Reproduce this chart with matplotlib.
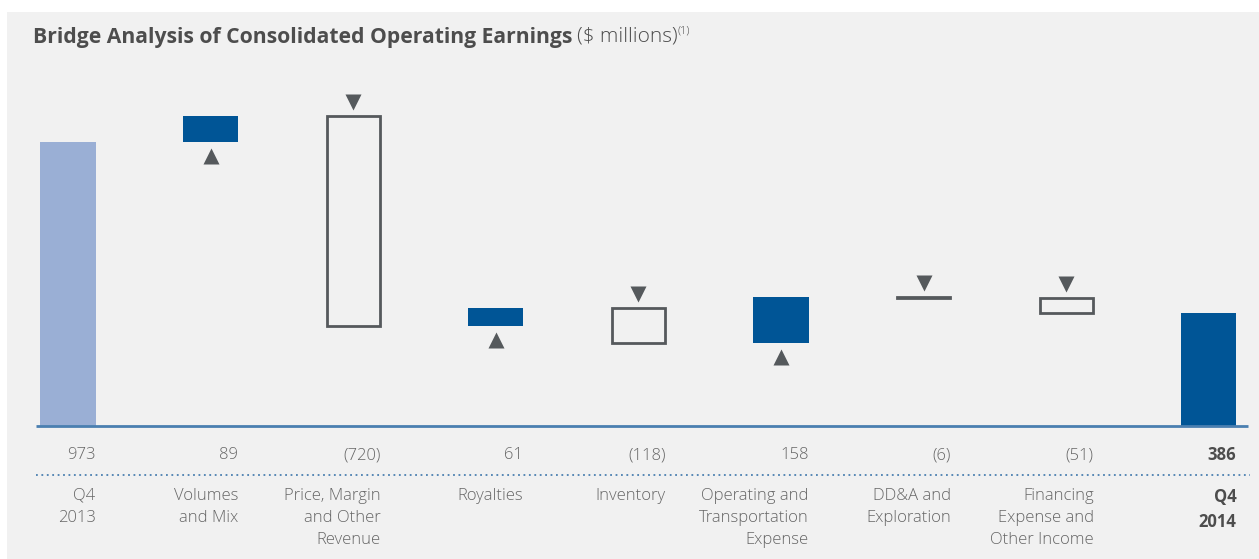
import matplotlib.pyplot as plt
from matplotlib.patches import Rectangle

plt.rcParams['font.family'] = ['Open Sans', 'DejaVu Sans']

# dados
categories = ["Q4\n2013", "Volumes\nand Mix", "Price, Margin\nand Other\nRevenue", "Royalties",
              "Inventory", "Operating and\nTransportation\nExpense", "DD&A and\nExploration",
              "Financing\nExpense and\nOther Income", "Q4\n2014"]
changes = [973, 89, -720, 61, -118, 158, -6, -51, 386]
value_labels = ["973", "89", "(720)", "61", "(118)", "158", "(6)", "(51)", "386"]

light_blue = '#9aafd5'
dark_blue = '#005596'
grey = '#55595c'
text_grey = '#666666'
bg = '#f1f1f1'

fig = plt.figure(figsize=(12.59, 5.59), dpi=100)
fig.patch.set_facecolor('white')
fig.patches.append(Rectangle((7 / 1259, 0), 1, 1 - 12 / 559, transform=fig.transFigure,
                             facecolor=bg, edgecolor='none', zorder=-5))

ax = fig.add_axes([0, 0, 1, 1])
ax.set_facecolor('none')
px_x = 142.6    # pixels por categoria
px_y = 0.292    # pixels por milhão
ax.set_xlim(-68 / px_x, (1259 - 68) / px_x)
ax.set_ylim(-133 / px_y, (559 - 133) / px_y)
ax.axis('off')

w = 0.386
tri_off = 14 / px_y
running = 0
n = len(changes)
for i, v in enumerate(changes):
    if i == 0:
        ax.bar(i, v, width=w, color=light_blue, zorder=2)
        running = v
    elif i == n - 1:
        ax.bar(i, v, width=w, color=dark_blue, zorder=2)
    else:
        start = running
        running += v
        if v > 0:
            ax.bar(i, v, bottom=start, width=w, color=dark_blue, zorder=2)
            ax.plot(i, start - tri_off, marker='^', ms=11, color=grey, mec='none', zorder=3)
        else:
            ax.bar(i, v, bottom=start, width=w - 0.012, facecolor='none', edgecolor=grey,
                   linewidth=2, zorder=2)
            ax.plot(i, start + tri_off, marker='v', ms=11, color=grey, mec='none', zorder=3)

# linha base e linha pontilhada
ax.plot([-32 / px_x, (1248 - 68) / px_x], [0, 0], color='#4a7fb0', lw=2, zorder=4,
        solid_capstyle='butt')
ax.plot([-32 / px_x, (1250 - 68) / px_x], [-(475 - 426) / px_y] * 2, color='#4a7fb0',
        lw=1.3, ls=(0, (1, 2)), zorder=4)

for i, (lab, cat) in enumerate(zip(value_labels, categories)):
    bold = i == n - 1
    ax.text(i + w / 2, -(455 - 426) / px_y, lab, ha='right', va='center', fontsize=12,
            color='#4d4d4d' if bold else text_grey, fontweight='bold' if bold else 'light')
    ax.text(i + w / 2, -(488 - 426) / px_y, cat, ha='right', va='top', fontsize=12,
            color='#4d4d4d' if bold else text_grey, fontweight='bold' if bold else 'light',
            linespacing=1.52)

# titulo
t = fig.text(33 / 1259, 1 - 37 / 559, "Bridge Analysis of Consolidated Operating Earnings",
             fontsize=15.2, fontweight='bold', color='#4d4d4d', va='center', ha='left')
fig.canvas.draw()
bb = t.get_window_extent()
t2 = fig.text(bb.x1 / 1259 + 5 / 1259, 1 - 37 / 559, "($ millions)", fontsize=15,
              color='#4d4d4d', va='center', ha='left', fontweight='light')
bb2 = t2.get_window_extent()
fig.text(bb2.x1 / 1259, 1 - 31 / 559, "(1)", fontsize=8, color='#4d4d4d', va='center',
         ha='left', fontweight='light')

fig.savefig('out.png', dpi=100, facecolor=fig.get_facecolor())
